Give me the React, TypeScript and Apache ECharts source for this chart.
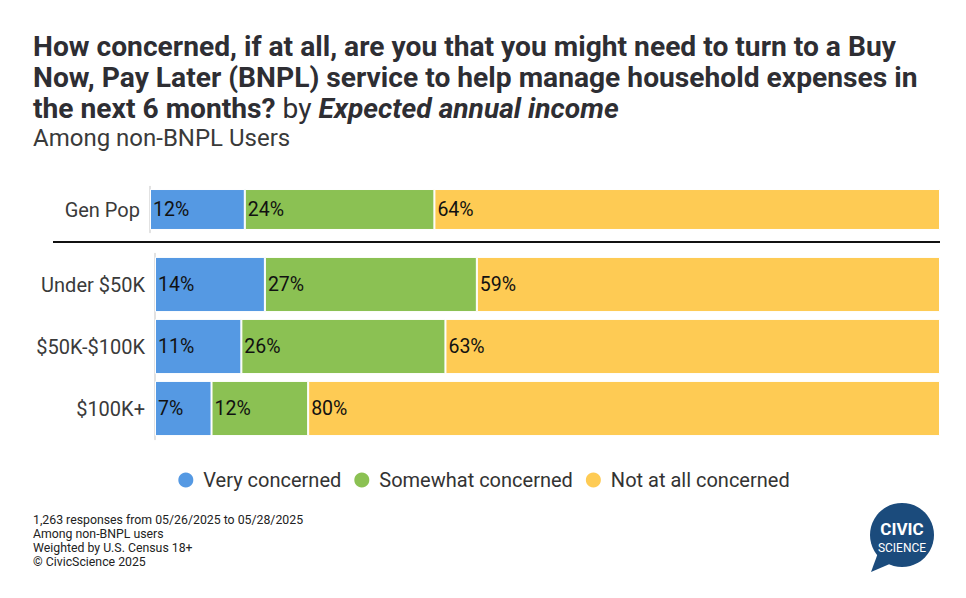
import React, { useEffect, useRef } from "react";
import * as echarts from "echarts";

const topCategories = ["Gen Pop"];
const incomeCategories = ["Under $50K", "$50K-$100K", "$100K+"];
const seriesNames = ["Very concerned", "Somewhat concerned", "Not at all concerned"];
const colors = ["#5599e3", "#8bc153", "#fecb54"];
const genPopValues = [[12], [24], [64]];
const veryConcerned = [14, 11, 7.2];
const somewhatConcerned = [27, 26, 12.31];
const notConcerned = [59, 63, 80.49];
const incomeValues = [veryConcerned, somewhatConcerned, notConcerned];
const footnotes = [
  "1,263 responses from 05/26/2025 to 05/28/2025",
  "Among non-BNPL users",
  "Weighted by U.S. Census 18+",
  "© CivicScience 2025",
];

export default function App() {
  const ref = useRef<HTMLDivElement>(null);
  useEffect(() => {
    if (!ref.current) return;
    const chart = echarts.init(ref.current, null, { renderer: "svg" });
    const font = "Roboto";
    const label = {
      show: true,
      position: "insideLeft",
      distance: 3,
      formatter: (p: any) => Math.round(p.value) + "%",
      color: "#111",
      fontSize: 19.5,
      fontFamily: font,
    };
    const series: any[] = [];
    seriesNames.forEach((name, i) => {
      series.push({
        type: "bar",
        name,
        stack: "top",
        xAxisIndex: 0,
        yAxisIndex: 0,
        data: genPopValues[i],
        barCategoryGap: "11%",
        itemStyle: { color: colors[i], borderColor: "#fff", borderWidth: 1 },
        label,
      });
    });
    seriesNames.forEach((name, i) => {
      series.push({
        type: "bar",
        name,
        stack: "income",
        xAxisIndex: 1,
        yAxisIndex: 1,
        data: incomeValues[i],
        barCategoryGap: "11%",
        itemStyle: { color: colors[i], borderColor: "#fff", borderWidth: 1 },
        label,
      });
    });
    const yAxisCommon = {
      type: "category",
      inverse: true,
      axisTick: { show: false },
      axisLine: { show: true, lineStyle: { color: "#d9d9d9", width: 1.5 } },
      axisLabel: { color: "#3a3a3a", fontSize: 20, fontFamily: font, margin: 10 },
    };
    chart.setOption({
      animation: false,
      textStyle: { fontFamily: font },
      title: [
        {
          text:
            "How concerned, if at all, are you that you might need to turn to a Buy\nNow, Pay Later (BNPL) service to help manage household expenses in\nthe next 6 months? {n|by} {i|Expected annual income}",
          left: 28,
          top: 26,
          textStyle: {
            fontFamily: font,
            fontSize: 28.2,
            fontWeight: "bold",
            color: "#2e2e33",
            lineHeight: 31,
            rich: {
              n: { fontFamily: font, fontSize: 28.2, fontWeight: "normal", color: "#2e2e33", lineHeight: 31 },
              i: { fontFamily: font, fontSize: 28.2, fontWeight: "bold", fontStyle: "italic", color: "#2e2e33", lineHeight: 31 },
            },
          },
        },
        {
          text: "Among non-BNPL Users",
          left: 28,
          top: 121,
          textStyle: { fontFamily: font, fontSize: 24, fontWeight: "normal", color: "#3a3a3a" },
        },
        {
          text: footnotes.join("\n"),
          left: 28,
          top: 508,
          textStyle: { fontFamily: font, fontSize: 12.3, fontWeight: "normal", color: "#222", lineHeight: 14 },
        },
      ],
      legend: {
        data: seriesNames,
        top: 465,
        left: "center",
        icon: "circle",
        itemWidth: 17,
        itemHeight: 17,
        itemGap: 11,
        textStyle: { fontFamily: font, fontSize: 20, color: "#333", padding: [0, 0, 0, 4] },
      },
      grid: [
        { left: 150, right: 26, top: 186.5, height: 46, containLabel: false },
        { left: 155, right: 26, top: 253.5, height: 186, containLabel: false },
      ],
      xAxis: [
        { type: "value", gridIndex: 0, min: 0, max: 100, show: false },
        { type: "value", gridIndex: 1, min: 0, max: 100, show: false },
      ],
      yAxis: [
        { ...yAxisCommon, gridIndex: 0, data: topCategories },
        { ...yAxisCommon, gridIndex: 1, data: incomeCategories },
      ],
      series,
      graphic: [
        { type: "line", shape: { x1: 53, y1: 242, x2: 940, y2: 242 }, style: { stroke: "#111", lineWidth: 2 } },
        {
          type: "group",
          left: 870,
          top: 503,
          children: [
            { type: "polygon", shape: { points: [[10, 50], [3, 69], [24, 60]] }, style: { fill: "#1b4b7c" } },
            { type: "circle", shape: { cx: 34, cy: 32, r: 32 }, style: { fill: "#1b4b7c" } },
            {
              type: "text",
              style: { text: "CIVIC", x: 34, y: 26, align: "center", verticalAlign: "middle", fill: "#fff", fontSize: 17, fontWeight: "bold", fontFamily: font },
            },
            {
              type: "text",
              style: { text: "SCIENCE", x: 34, y: 45, align: "center", verticalAlign: "middle", fill: "#fff", fontSize: 12, fontFamily: font },
            },
          ],
        },
      ],
    });
    return () => chart.dispose();
  }, []);
  return <div ref={ref} style={{ position: "absolute", left: 0, top: 0, width: 966, height: 598 }} />;
}
